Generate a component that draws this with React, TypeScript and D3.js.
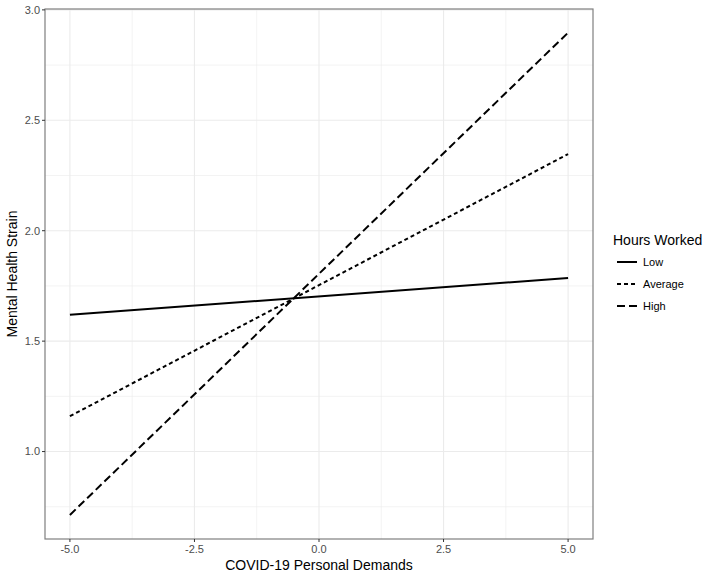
import React from "react";
import * as d3 from "d3";

const xValues = [-5, 5];
const lowValues = [1.619, 1.786];
const averageValues = [1.16, 2.347];
const highValues = [0.713, 2.897];
const xTicks = [-5, -2.5, 0, 2.5, 5];
const yTicks = [1.0, 1.5, 2.0, 2.5, 3.0];
const xMinor = [-3.75, -1.25, 1.25, 3.75];
const yMinor = [0.75, 1.25, 1.75, 2.25, 2.75];
const seriesNames = ["Low", "Average", "High"];
const seriesDash = ["none", "4 3", "8 4"];

const width = 709;
const height = 576;
const margin = { left: 45, top: 9, right: 116, bottom: 37 };

// ggplot prints a plain hyphen, not the unicode minus
const fmt = (t: number) => t.toFixed(1);

const App = () => {
  const series = [lowValues, averageValues, highValues];
  const x = d3.scaleLinear().domain([-5.5, 5.5]).range([margin.left, width - margin.right]);
  const y = d3.scaleLinear().domain([0.604, 3.004]).range([height - margin.bottom, margin.top]);
  const line = d3
    .line<number>()
    .x((_, i) => x(xValues[i]))
    .y((d) => y(d));

  const [x0, x1] = x.range();
  const [y0, y1] = y.range();
  const font = "'Liberation Sans', Arial, sans-serif";

  return (
    <svg
      width={width}
      height={height}
      style={{ position: "absolute", left: 0, top: 0, background: "white", fontFamily: font }}
    >
      <rect x={x0} y={y1} width={x1 - x0} height={y0 - y1} fill="white" />
      {xMinor.map((t) => (
        <line key={"xm" + t} x1={x(t)} x2={x(t)} y1={y1} y2={y0} stroke="#ebebeb" strokeWidth={0.6} />
      ))}
      {yMinor.map((t) => (
        <line key={"ym" + t} x1={x0} x2={x1} y1={y(t)} y2={y(t)} stroke="#ebebeb" strokeWidth={0.6} />
      ))}
      {xTicks.map((t) => (
        <line key={"xg" + t} x1={x(t)} x2={x(t)} y1={y1} y2={y0} stroke="#ebebeb" strokeWidth={1.1} />
      ))}
      {yTicks.map((t) => (
        <line key={"yg" + t} x1={x0} x2={x1} y1={y(t)} y2={y(t)} stroke="#ebebeb" strokeWidth={1.1} />
      ))}
      {series.map((s, i) => (
        <path
          key={seriesNames[i]}
          d={line(s) || ""}
          fill="none"
          stroke="black"
          strokeWidth={2}
          strokeDasharray={seriesDash[i]}
        />
      ))}
      <rect x={x0} y={y1} width={x1 - x0} height={y0 - y1} fill="none" stroke="#7f7f7f" strokeWidth={1.2} />
      {xTicks.map((t) => (
        <g key={"xt" + t}>
          <line x1={x(t)} x2={x(t)} y1={y0} y2={y0 + 3} stroke="#333" strokeWidth={1} />
          <text x={x(t)} y={y0 + 14} textAnchor="middle" fontSize={11} fill="#4d4d4d">
            {fmt(t)}
          </text>
        </g>
      ))}
      {yTicks.map((t) => (
        <g key={"yt" + t}>
          <line x1={x0 - 3} x2={x0} y1={y(t)} y2={y(t)} stroke="#333" strokeWidth={1} />
          <text x={x0 - 5} y={y(t)} dy="0.35em" textAnchor="end" fontSize={11} fill="#4d4d4d">
            {fmt(t)}
          </text>
        </g>
      ))}
      <text x={(x0 + x1) / 2} y={height - 6} textAnchor="middle" fontSize={14} fill="black">
        COVID-19 Personal Demands
      </text>
      <text
        transform={`translate(17, ${(y0 + y1) / 2}) rotate(-90)`}
        textAnchor="middle"
        fontSize={14}
        fill="black"
      >
        Mental Health Strain
      </text>
      <g transform={`translate(${x1 + 20}, 0)`}>
        <text x={0} y={245} fontSize={14} fill="black">
          Hours Worked
        </text>
        {seriesNames.map((name, i) => (
          <g key={"lg" + name} transform={`translate(0, ${262 + i * 22})`}>
            <line x1={4} x2={24} y1={0} y2={0} stroke="black" strokeWidth={2} strokeDasharray={seriesDash[i]} />
            <text x={30} y={0} dy="0.35em" fontSize={11} fill="black">
              {name}
            </text>
          </g>
        ))}
      </g>
    </svg>
  );
};

export default App;
